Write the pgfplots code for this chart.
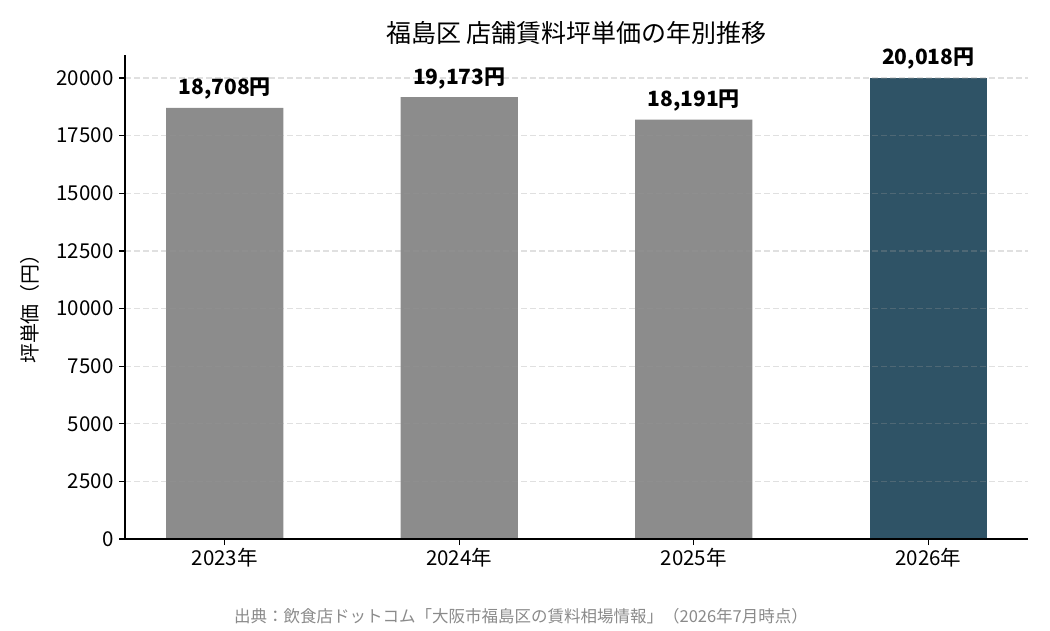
\documentclass[border=0pt]{standalone}
\usepackage{fontspec}
\setmainfont{Noto Sans CJK JP}
\usepackage{pgfplots}
\pgfplotsset{compat=1.18}
\definecolor{barg}{HTML}{8C8C8C}
\definecolor{bard}{HTML}{2F5366}
\definecolor{footg}{HTML}{8A8A8A}
\begin{document}
\begin{tikzpicture}
\path[use as bounding box] (0,0) rectangle (1050pt,630pt);
\begin{axis}[
  at={(125pt,91pt)}, anchor=south west, scale only axis,
  width=903pt, height=484pt,
  xmin=-0.425, xmax=3.425, ymin=0, ymax=21000,
  axis x line*=bottom, axis y line*=left,
  axis line style={line width=1.4pt, black},
  xtick={0,1,2,3}, xticklabels={2023年,2024年,2025年,2026年},
  ytick={0,2500,5000,7500,10000,12500,15000,17500,20000},
  scaled y ticks=false,
  /pgf/number format/1000 sep={},
  /pgf/number format/assume math mode=true,
  tick style={line width=1.2pt, black}, tick align=outside, major tick length=6pt,
  ymajorgrids,
  major grid style={line width=1.2pt, black!40, opacity=0.3, dash pattern=on 6pt off 3pt},
  axis on top,
  ticklabel style={font=\fontsize{20.5}{24}\selectfont},
  yticklabel style={xshift=-2pt},
  bar width=0.5,
  ybar, bar shift=0pt,
  nodes near coords={\pgfmathprintnumber[fixed,precision=0,1000 sep={,},assume math mode=true]{\pgfplotspointmeta}円},
  point meta=y,
  every node near coord/.append style={font=\fontsize{21}{25}\bfseries\selectfont, anchor=center, yshift=19pt, black},
]
\addplot[fill=barg, draw=none] coordinates {(0,18708) (1,19173) (2,18191)};
\addplot[fill=bard, draw=none] coordinates {(3,20018)};
\end{axis}
\node[font=\fontsize{25}{30}\selectfont] at (576.5pt,597pt) {福島区 店舗賃料坪単価の年別推移};
\node[font=\fontsize{20}{24}\selectfont, rotate=90] at (30pt,326pt) {坪単価（円）};
\node[font=\fontsize{16.5}{20}\selectfont, text=footg] at (521pt,14pt) {出典：飲食店ドットコム「大阪市福島区の賃料相場情報」（2026年7月時点）};
\end{tikzpicture}
\end{document}
